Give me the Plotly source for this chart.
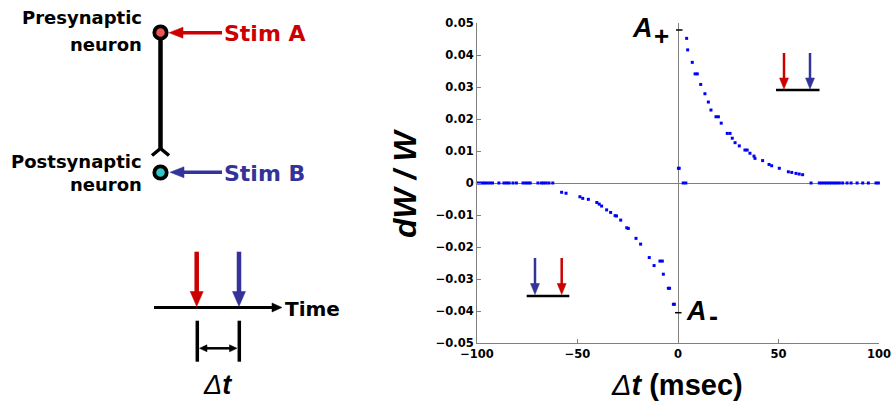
import plotly.graph_objects as go

W, H = 892, 401

# ---------------- data ----------------
dt_depress_zero = [-99.8, -98.5, -97.2, -96.1, -94.9, -93.6, -92.3, -89.1, -86.6, -85.3, -84.0,
                   -82.1, -80.4, -77.1, -75.8, -74.6, -73.5, -69.7, -68.0, -66.9, -65.6, -64.2, -62.3]
dw_depress_zero = [0.0] * len(dt_depress_zero)

dt_ltd = [-57.9, -55.7, -48.8, -47.4, -44.6, -40.4, -39.2, -38.0, -35.5, -33.5, -31.3, -30.6,
          -28.5, -25.5, -24.7, -20.9, -18.6, -14.3, -11.9, -9.0, -7.8, -7.3, -4.8, -4.2, -2.3, -1.8]
dw_ltd = [-0.0029, -0.0032, -0.0043, -0.0048, -0.0051, -0.0061, -0.0066, -0.0072, -0.0084, -0.0092,
          -0.0102, -0.0103, -0.0116, -0.0140, -0.0142, -0.0173, -0.0191, -0.0233, -0.0258, -0.0244,
          -0.0244, -0.0285, -0.0329, -0.0329, -0.0379, -0.0379]

dt_mid = [0.2, 0.6, 2.6, 3.9]
dw_mid = [0.0046, 0.0046, 0.0, 0.0]

dt_ltp = [4.3, 4.8, 7.1, 8.5, 9.6, 11.3, 13.4, 15.1, 16.4, 18.9, 20.1, 21.5, 24.5, 25.9, 27.0, 28.4,
          30.5, 33.3, 34.4, 35.8, 37.8, 38.3, 42.1, 45.3, 46.6, 50.4, 54.9, 56.6, 58.7, 60.3, 62.0]
dw_ltp = [0.0452, 0.0416, 0.0377, 0.0341, 0.0341, 0.0308, 0.0279, 0.0253, 0.0228, 0.0207, 0.0207,
          0.0187, 0.0155, 0.0155, 0.0140, 0.0126, 0.0116, 0.0103, 0.0103, 0.0093, 0.0084, 0.0077,
          0.0070, 0.0058, 0.0054, 0.0046, 0.0035, 0.0033, 0.0030, 0.0028, 0.0026]

dt_potent_zero = [66.2, 70.3, 71.5, 72.8, 74.0, 75.3, 76.5, 77.8, 79.0, 80.3, 81.9, 84.1, 86.1,
                  89.1, 91.9, 94.7, 98.5, 99.7]
dw_potent_zero = [0.0] * len(dt_potent_zero)

x_ticks = [-100, -50, 0, 50, 100]
x_tick_labels = ["−100", "−50", "0", "50", "100"]
y_ticks = [-0.05, -0.04, -0.03, -0.02, -0.01, 0, 0.01, 0.02, 0.03, 0.04, 0.05]
y_tick_labels = ["−0.05", "−0.04", "−0.03", "−0.02", "−0.01", "0",
                 "0.01", "0.02", "0.03", "0.04", "0.05"]

dt_all = dt_depress_zero + dt_ltd + dt_mid + dt_ltp + dt_potent_zero
dw_all = dw_depress_zero + dw_ltd + dw_mid + dw_ltp + dw_potent_zero

# ---------------- styles ----------------
RED = "#cc0000"
BLUE = "#333399"
AXIS_GRAY = "#808080"
DIAG_FONT = "DejaVu Sans"
PLOT_FONT = "Arial, Liberation Sans, sans-serif"


def px(x):
    return x / W


def py(y):
    return 1 - y / H


shapes = []


def seg(x0, y0, x1, y1, color, width):
    shapes.append(dict(type="line", xref="paper", yref="paper",
                       x0=px(x0), y0=py(y0), x1=px(x1), y1=py(y1),
                       line=dict(color=color, width=width)))


def tri(pts, color):
    p = "M " + " L ".join(f"{px(a):.5f},{py(b):.5f}" for a, b in pts) + " Z"
    shapes.append(dict(type="path", xref="paper", yref="paper", path=p,
                       fillcolor=color, line=dict(color=color, width=0.5)))


def polyline(pts, color, width):
    p = "M " + " L ".join(f"{px(a):.5f},{py(b):.5f}" for a, b in pts)
    shapes.append(dict(type="path", xref="paper", yref="paper", path=p,
                       line=dict(color=color, width=width)))


def circ(cx, cy, r, fill, lw):
    shapes.append(dict(type="circle", xref="paper", yref="paper",
                       x0=px(cx - r), x1=px(cx + r), y0=py(cy + r), y1=py(cy - r),
                       fillcolor=fill, line=dict(color="black", width=lw)))


def arrow_left(x_tail, x_tip, y, color, lw, head_len, head_half):
    seg(x_tail, y, x_tip + head_len - 1, y, color, lw)
    tri([(x_tip, y), (x_tip + head_len, y - head_half), (x_tip + head_len, y + head_half)], color)


def arrow_right(x_tail, x_tip, y, color, lw, head_len, head_half):
    seg(x_tail, y, x_tip - head_len + 1, y, color, lw)
    tri([(x_tip, y), (x_tip - head_len, y - head_half), (x_tip - head_len, y + head_half)], color)


def arrow_down(x, y_top, y_tip, color, lw, head_len, head_half):
    seg(x, y_top, x, y_tip - head_len + 1, color, lw)
    tri([(x, y_tip), (x - head_half, y_tip - head_len), (x + head_half, y_tip - head_len)], color)


# ---------------- left schematic ----------------
seg(160.5, 38, 160.5, 149, "black", 4.5)
polyline([(152, 155.5), (160.5, 148.5), (169, 155.5)], "black", 3.5)
circ(160.5, 32.5, 6.2, "#ee5555", 3.8)
circ(160.5, 172.5, 6.2, "#2ec8c8", 3.8)
arrow_left(222, 169, 32.7, RED, 3.5, 14, 5.5)
arrow_left(222, 170, 172.3, BLUE, 3.5, 14, 5.5)

arrow_right(154, 282, 307.5, "black", 3, 10, 4.5)
arrow_down(196.7, 251.7, 306.5, RED, 4.5, 15, 6.5)
arrow_down(239.0, 251.7, 306.5, BLUE, 4.5, 15, 6.5)
seg(197.3, 320.7, 197.3, 361.7, "black", 3.5)
seg(239.3, 320.7, 239.3, 361.7, "black", 3.5)
seg(205, 348.3, 231, 348.3, "black", 2.5)
tri([(199.5, 348.3), (207, 344.8), (207, 351.8)], "black")
tri([(237, 348.3), (229.5, 344.8), (229.5, 351.8)], "black")

# ---------------- inset arrows in plot ----------------
arrow_down(784, 53, 89, RED, 2.5, 11, 4.5)
arrow_down(810, 53, 89, BLUE, 2.5, 11, 4.5)
seg(776, 90, 819.5, 90, "black", 2.5)
arrow_down(535, 258, 294.5, BLUE, 2.5, 11, 4.5)
arrow_down(561.7, 258, 294.5, RED, 2.5, 11, 4.5)
seg(526.7, 296, 569.3, 296, "black", 2.5)

# A+ / A- ticks on the dt=0 line
seg(676, 30, 682.5, 30, "black", 1.5)
seg(675, 312.7, 681.5, 312.7, "black", 1.5)

# ---------------- annotations ----------------
ann = []


def text(x, y, s, size, color="black", family=DIAG_FONT, xanchor="left", angle=0):
    ann.append(dict(xref="paper", yref="paper", x=px(x), y=py(y), text=s, showarrow=False,
                    xanchor=xanchor, yanchor="middle", textangle=angle,
                    font=dict(family=family, size=size, color=color)))


text(144, 18, "<b>Presynaptic</b>", 18, xanchor="right")
text(144, 44, "<b>neuron</b>", 18, xanchor="right")
text(144, 161, "<b>Postsynaptic</b>", 18, xanchor="right")
text(144, 184, "<b>neuron</b>", 18, xanchor="right")
text(222, 33.5, "<b>Stim A</b>", 22, color=RED)
text(222, 173, "<b>Stim B</b>", 22, color=BLUE)
text(283, 308.5, "<b>Time</b>", 20)
text(217, 385, "<i>Δ</i><b><i>t</i></b>", 27, family=PLOT_FONT, xanchor="center")

text(630, 28.5, "<b><i>A</i></b>", 27, family=PLOT_FONT)
text(652, 36, "<b>+</b>", 26, family=PLOT_FONT)
text(684, 311, "<b><i>A</i></b>", 27, family=PLOT_FONT)
text(707, 317, "<b>-</b>", 27, family=PLOT_FONT)

text(405, 184, "<b><i>dW / W</i></b>", 32, family=PLOT_FONT, xanchor="center", angle=-90)
text(677, 385, "<i>Δ</i><b><i>t</i> (msec)</b>", 29, family=PLOT_FONT, xanchor="center")

# ---------------- figure ----------------
fig = go.Figure()
fig.add_trace(go.Scatter(x=dt_all, y=dw_all, mode="markers",
                         marker=dict(symbol="square", size=3, color="#0000ff", line=dict(width=0)),
                         cliponaxis=False, hoverinfo="x+y"))

axis_common = dict(ticks="inside", ticklen=4, tickcolor=AXIS_GRAY, showline=True,
                   linecolor=AXIS_GRAY, linewidth=1, zeroline=True, zerolinecolor=AXIS_GRAY,
                   zerolinewidth=1, showgrid=False, automargin=False,
                   tickfont=dict(family=DIAG_FONT, size=11.5, color="black"))

fig.update_layout(
    width=W, height=H,
    margin=dict(l=0, r=0, t=0, b=0, pad=0, autoexpand=False),
    paper_bgcolor="white", plot_bgcolor="white",
    showlegend=False,
    shapes=shapes,
    annotations=ann,
    xaxis=dict(domain=[477 / W, 879 / W], range=[-100, 100], tickvals=x_ticks,
               ticktext=[f"<b>{t}</b>" for t in x_tick_labels], **axis_common),
    yaxis=dict(domain=[1 - 343 / H, 1 - 23 / H], range=[-0.05, 0.05], tickvals=y_ticks,
               ticktext=[f"<b>{t}</b>" for t in y_tick_labels], **axis_common),
)

fig.write_html("out.html", config={"responsive": False})
